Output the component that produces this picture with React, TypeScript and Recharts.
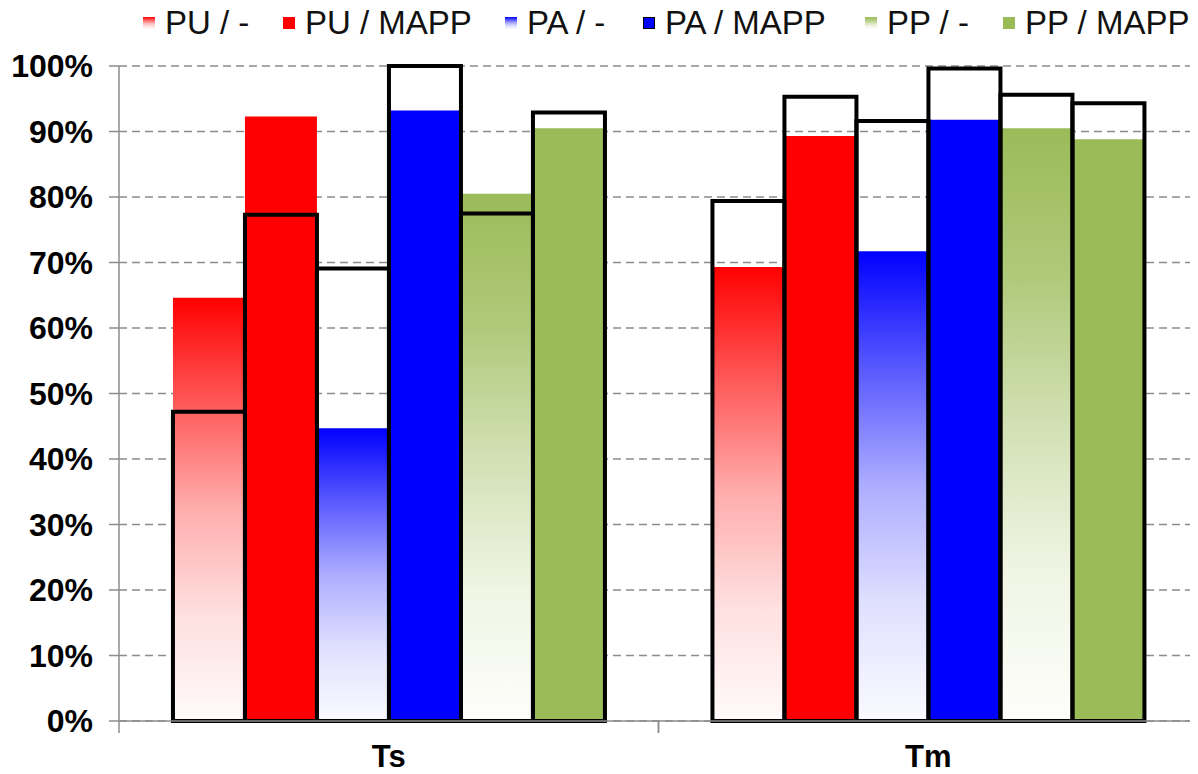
import React from 'react';
import { BarChart, Bar, XAxis, YAxis, CartesianGrid, Legend } from 'recharts';

const categories = ['Ts', 'Tm'];
const seriesNames = ['PU / -', 'PU / MAPP', 'PA / -', 'PA / MAPP', 'PP / -', 'PP / MAPP'];

// filled (coloured) values, %
const puPlain = [64.6, 69.3];
const puMapp = [92.3, 89.3];
const paPlain = [44.7, 71.7];
const paMapp = [93.2, 91.8];
const ppPlain = [80.5, 90.5];
const ppMapp = [90.5, 88.8];

// outlined (black frame) values, %
const puPlainFrame = [47.2, 79.4];
const puMappFrame = [77.3, 95.3];
const paPlainFrame = [69.1, 91.6];
const paMappFrame = [100, 99.6];
const ppPlainFrame = [77.5, 95.6];
const ppMappFrame = [92.9, 94.3];

const yTicks = [0, 10, 20, 30, 40, 50, 60, 70, 80, 90, 100];

const fillSeries = [puPlain, puMapp, paPlain, paMapp, ppPlain, ppMapp];
const frameSeries = [puPlainFrame, puMappFrame, paPlainFrame, paMappFrame, ppPlainFrame, ppMappFrame];

const data = categories.map((name, i) => {
  const row: Record<string, any> = { name };
  fillSeries.forEach((s, k) => (row[`f${k}`] = s[i]));
  frameSeries.forEach((s, k) => (row[`o${k}`] = s[i]));
  return row;
});

const FONT = '"Liberation Sans", Arial, sans-serif';

const seriesFills = [
  'url(#gradRed)',
  '#FF0000',
  'url(#gradBlue)',
  '#0000FF',
  'url(#gradGreen)',
  '#9BBB59',
];

const legendMarkers = [
  'linear-gradient(to bottom, #ff0000 0%, #ff5959 25%, #ffadad 50%, #ffe0e0 75%, #fffafa 100%)',
  '#FF0000',
  'linear-gradient(to bottom, #0000ff 0%, #5959ff 25%, #adadff 50%, #e0e0ff 75%, #fafaff 100%)',
  '#0000FF',
  'linear-gradient(to bottom, #9bbb59 0%, #afc97a 25%, #d2e0b4 50%, #f0f5e4 75%, #fdfefb 100%)',
  '#9BBB59',
];

const legendItemWidths = [140, 222, 138, 222, 138, 190];

const renderLegend = () => (
  <div
    style={{
      display: 'flex',
      alignItems: 'center',
      height: 30,
      paddingLeft: 135,
      fontFamily: FONT,
      fontSize: 33,
      lineHeight: '30px',
      color: '#111',
      whiteSpace: 'nowrap',
    }}
  >
    {seriesNames.map((n, i) => (
      <div key={n} style={{ display: 'flex', alignItems: 'center', width: legendItemWidths[i], flex: 'none' }}>
        <span
          style={{
            display: 'inline-block',
            width: 12,
            height: 12,
            background: legendMarkers[i],
            marginRight: 10,
            boxSizing: 'border-box',
            border: i === 3 ? '1.5px solid #000' : 'none',
          }}
        />
        <span>{n}</span>
      </div>
    ))}
  </div>
);

const XTick = (props: any) => {
  const { x, y, payload } = props;
  const half = payload && typeof payload.offset === 'number' && payload.offset > 0 ? payload.offset : 269.5;
  return (
    <g>
      <line x1={x - half} y1={y} x2={x - half} y2={y + 12} stroke="#8c8c8c" strokeWidth={1.5} />
      <line x1={x + half} y1={y} x2={x + half} y2={y + 12} stroke="#8c8c8c" strokeWidth={1.5} />
      <text x={x} y={y + 46} textAnchor="middle" fontFamily={FONT} fontSize={31} fontWeight="bold" fill="#000">
        {payload.value}
      </text>
    </g>
  );
};

export default function App() {
  return (
    <div style={{ width: 1190, height: 766 }}>
      <BarChart
        width={1190}
        height={766}
        data={data}
        margin={{ top: 28, right: 0, left: 0, bottom: 0 }}
        barCategoryGap="10%"
        barGap={0}
      >
        <defs>
          <linearGradient id="gradRed" x1="0" y1="0" x2="0" y2="1">
            <stop offset="0%" stopColor="#ff0000" />
            <stop offset="25%" stopColor="#ff5959" />
            <stop offset="50%" stopColor="#ffadad" />
            <stop offset="75%" stopColor="#ffe0e0" />
            <stop offset="100%" stopColor="#fffafa" />
          </linearGradient>
          <linearGradient id="gradBlue" x1="0" y1="0" x2="0" y2="1">
            <stop offset="0%" stopColor="#0000ff" />
            <stop offset="25%" stopColor="#5959ff" />
            <stop offset="50%" stopColor="#adadff" />
            <stop offset="75%" stopColor="#e0e0ff" />
            <stop offset="100%" stopColor="#fafaff" />
          </linearGradient>
          <linearGradient id="gradGreen" x1="0" y1="0" x2="0" y2="1">
            <stop offset="0%" stopColor="#9bbb59" />
            <stop offset="25%" stopColor="#afc97a" />
            <stop offset="50%" stopColor="#d2e0b4" />
            <stop offset="75%" stopColor="#f0f5e4" />
            <stop offset="100%" stopColor="#fdfefb" />
          </linearGradient>
        </defs>
        <CartesianGrid vertical={false} stroke="#8c8c8c" strokeWidth={1.5} strokeDasharray="8 5" />
        <XAxis
          xAxisId="f"
          dataKey="name"
          axisLine={{ stroke: '#8c8c8c', strokeWidth: 1.5 }}
          tickLine={false}
          tickSize={0}
          tickMargin={0}
          tick={<XTick />}
          height={53}
          interval={0}
        />
        <XAxis xAxisId="o" dataKey="name" hide />
        <YAxis
          domain={[0, 100]}
          ticks={yTicks}
          tickFormatter={(v: number) => `${v}%`}
          width={111}
          tickSize={10}
          tickMargin={16}
          axisLine={{ stroke: '#8c8c8c', strokeWidth: 1.5 }}
          tickLine={{ stroke: '#8c8c8c', strokeWidth: 1.5 }}
          tick={{ fontFamily: FONT, fontSize: 32, fontWeight: 'bold', fill: '#000' }}
          interval={0}
        />
        <Legend verticalAlign="top" content={renderLegend} wrapperStyle={{ top: 0, left: 0, width: 1190, height: 30 }} />
        {fillSeries.map((_, k) => (
          <Bar key={`f${k}`} xAxisId="f" dataKey={`f${k}`} name={seriesNames[k]} fill={seriesFills[k]} isAnimationActive={false} />
        ))}
        {frameSeries.map((_, k) => (
          <Bar
            key={`o${k}`}
            xAxisId="o"
            dataKey={`o${k}`}
            name={`${seriesNames[k]} frame`}
            fill="none"
            stroke="#000"
            strokeWidth={4}
            legendType="none"
            isAnimationActive={false}
          />
        ))}
      </BarChart>
    </div>
  );
}
